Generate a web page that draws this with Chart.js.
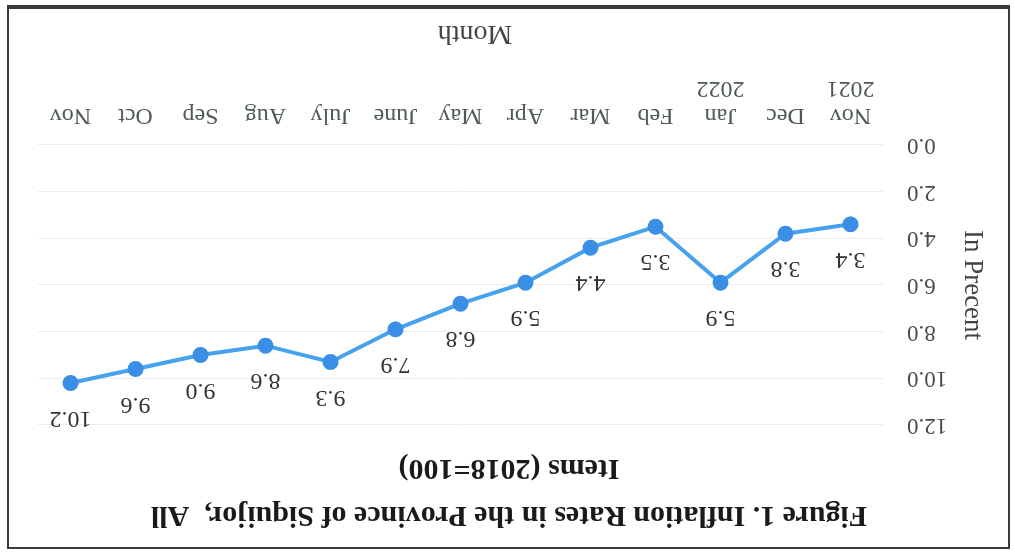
<!DOCTYPE html>
<html><head><meta charset="utf-8">
<script src="https://cdn.jsdelivr.net/npm/chart.js@4"></script>
<style>
html,body{margin:0;padding:0;background:#fff;overflow:hidden;}
#wrap{position:relative;width:1015px;height:553px;transform:rotate(180deg);transform-origin:50% 50%;overflow:hidden;background:#fff;}
#frame{position:absolute;left:5px;top:4px;width:1003px;height:544px;box-sizing:border-box;border:2px solid #3a3a3a;border-bottom-width:4px;pointer-events:none;}
canvas{position:absolute;left:0;top:0;}
</style></head><body>
<div id="wrap"><canvas id="c" width="1015" height="553"></canvas><div id="frame"></div></div>
<script>
const months = [["Nov","2021"],"Dec",["Jan","2022"],"Feb","Mar","Apr","May","June","July","Aug","Sep","Oct","Nov"];
const inflation = [3.4,3.8,5.9,3.5,4.4,5.9,6.8,7.9,9.3,8.6,9.0,9.6,10.2];
const yTicks = [0,2,4,6,8,10,12];
const titleLines = ["Figure 1. Inflation Rates in the Province of Siquijor,  All","Items (2018=100)"];
const xTitle = "Month";
const yTitle = "In Precent";

const SERIF = "'Liberation Serif','Times New Roman',serif";

const textPlugin = {
  id: 'extraText',
  afterDraw(chart) {
    const ctx = chart.ctx;
    ctx.save();
    ctx.fillStyle = '#1a1a1a';
    ctx.font = "bold 30px " + SERIF;
    ctx.textAlign = 'center';
    ctx.textBaseline = 'middle';
    ctx.fillText(titleLines[0], 506, 38);
    ctx.fillText(titleLines[1], 506, 85);
    ctx.fillStyle = '#444';
    ctx.font = "28px " + SERIF;
    ctx.fillText(xTitle, 540, 520);
    ctx.restore();
  }
};

const valueLabels = {
  id: 'valueLabels',
  afterDatasetsDraw(chart) {
    const ctx = chart.ctx;
    const meta = chart.getDatasetMeta(0);
    ctx.save();
    ctx.fillStyle = '#333';
    ctx.font = "24px " + SERIF;
    ctx.textAlign = 'center';
    ctx.textBaseline = 'middle';
    meta.data.forEach((pt, i) => {
      ctx.fillText(inflation[i].toFixed(1), pt.x, pt.y - 35);
    });
    ctx.restore();
  }
};

new Chart(document.getElementById('c'), {
  type: 'line',
  data: {
    labels: months,
    datasets: [{
      data: inflation,
      borderColor: '#46a2ec',
      backgroundColor: '#3b8ee6',
      pointBackgroundColor: '#3b8ee6',
      pointBorderColor: '#3b8ee6',
      borderWidth: 4,
      pointRadius: 6,
      tension: 0,
      fill: false
    }]
  },
  options: {
    responsive: false,
    animation: false,
    devicePixelRatio: 1,
    layout: { padding: { top: 128, left: 10, right: 38, bottom: 0 } },
    plugins: { legend: { display: false }, title: { display: false }, tooltip: { enabled: false } },
    scales: {
      x: {
        offset: true,
        grid: { display: false, drawTicks: false },
        border: { display: false },
        ticks: { color: '#4f5a57', padding: 16.5, maxRotation: 0, autoSkip: false,
                 font: { family: SERIF, size: 24, lineHeight: 27/24 } },
        afterFit(s) { s.height = 145; }
      },
      y: {
        min: 0, max: 12,
        afterBuildTicks(axis) { axis.ticks = yTicks.map(v => ({ value: v })); },
        grid: { color: '#ececec', lineWidth: 1, drawTicks: false },
        border: { display: false },
        ticks: { color: '#4a4a4a', padding: 24, callback: v => Number(v).toFixed(1),
                 font: { family: SERIF, size: 23 } },
        title: { display: true, text: yTitle, color: '#444',
                 font: { family: SERIF, size: 27, lineHeight: 1.2 }, padding: { top: 17, bottom: 0 } },
        afterFit(s) { s.width = 122; }
      }
    }
  },
  plugins: [textPlugin, valueLabels]
});
</script>
</body></html>
